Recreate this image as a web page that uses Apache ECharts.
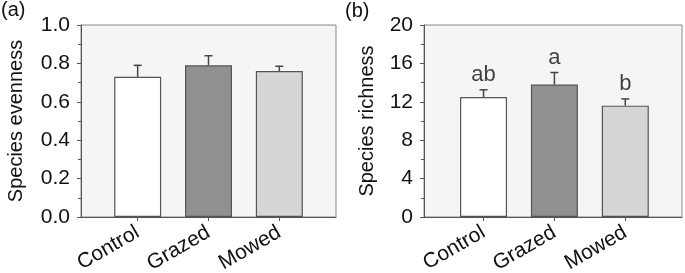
<!DOCTYPE html>
<html>
<head>
<meta charset="utf-8">
<style>
  html, body { margin: 0; padding: 0; background: #fff; }
  #chart { width: 685px; height: 273px; }
</style>
<script src="https://cdn.jsdelivr.net/npm/echarts@6/dist/echarts.min.js"></script>
</head>
<body>
<div id="chart"></div>
<script>
// treatments, positioned at 1, 2, 3 on each x axis
const categories = ['Control', 'Grazed', 'Mowed']
const barColors = ['#ffffff', '#909090', '#d6d6d6']

// (a) species evenness
const evenness = [0.73, 0.79, 0.76]
const evennessErr = [0.06, 0.05, 0.025]

// (b) species richness
const richness = [12.5, 13.8, 11.6]
const richnessErr = [0.75, 1.25, 0.7]
const richnessLetters = ['ab', 'a', 'b']

const evennessTicks = [0, 1, 0.2]   // min, max, interval
const richnessTicks = [0, 20, 4]

const font = 'Liberation Sans, Arial, sans-serif'
const textColor = '#111'

const chart = echarts.init(document.getElementById('chart'))

function xAxisFor(gridIndex, min, max) {
  return {
    gridIndex: gridIndex,
    type: 'value',
    min: min,
    max: max,
    axisLine: { show: true, lineStyle: { color: '#555', width: 1 } },
    axisTick: {
      show: true, customValues: [1, 2, 3], inside: false, length: 4,
      lineStyle: { color: '#555' }
    },
    axisLabel: {
      customValues: [1, 2, 3],
      rotate: 30,
      margin: 14,
      fontFamily: font,
      fontSize: 21,
      color: textColor,
      formatter: v => categories[Math.round(v) - 1] || ''
    },
    splitLine: { show: false }
  }
}

function yAxisFor(gridIndex, ticks, name, digits, gap) {
  return {
    gridIndex: gridIndex,
    type: 'value',
    min: ticks[0],
    max: ticks[1],
    interval: ticks[2],
    name: name,
    nameLocation: 'middle',
    nameRotate: 90,
    nameGap: gap,
    nameTextStyle: { fontFamily: font, fontSize: 20, color: textColor },
    axisLine: { show: true, lineStyle: { color: '#555', width: 1 } },
    axisTick: { show: true, inside: false, length: 4, lineStyle: { color: '#555' } },
    minorTick: { show: true, splitNumber: 2, length: 3, lineStyle: { color: '#555' } },
    axisLabel: {
      margin: 11,
      fontFamily: font,
      fontSize: 21,
      color: textColor,
      formatter: v => digits ? v.toFixed(digits) : String(v)
    },
    splitLine: { show: false }
  }
}

function barSeries(idx, values) {
  return {
    type: 'bar',
    xAxisIndex: idx,
    yAxisIndex: idx,
    barWidth: 47,
    data: values.map((v, i) => ({
      value: [i + 1, v],
      itemStyle: { color: barColors[i] }
    })),
    itemStyle: { borderColor: '#555', borderWidth: 1.2 },
    animation: false,
    z: 2
  }
}

function errorSeries(idx, values, errs) {
  return {
    type: 'custom',
    xAxisIndex: idx,
    yAxisIndex: idx,
    data: values.map((v, i) => [i + 1, v, v + errs[i]]),
    renderItem: function (params, api) {
      const base = api.coord([api.value(0), api.value(1)])
      const top = api.coord([api.value(0), api.value(2)])
      const style = { stroke: '#444', lineWidth: 1.5 }
      return {
        type: 'group',
        children: [
          { type: 'line', shape: { x1: base[0], y1: base[1], x2: top[0], y2: top[1] }, style: style },
          { type: 'line', shape: { x1: top[0] - 4, y1: top[1], x2: top[0] + 4, y2: top[1] }, style: style }
        ]
      }
    },
    animation: false,
    z: 3
  }
}

const option = {
  backgroundColor: '#fff',
  animation: false,
  grid: [
    { left: 81, right: 349, top: 25, bottom: 56, outerBoundsMode: 'none', show: true, backgroundColor: '#f5f5f5', borderColor: '#888', borderWidth: 1 },
    { left: 424, right: 3, top: 25, bottom: 56, outerBoundsMode: 'none', show: true, backgroundColor: '#f5f5f5', borderColor: '#888', borderWidth: 1 }
  ],
  xAxis: [xAxisFor(0, 0.2, 3.8), xAxisFor(1, 0.16, 3.8)],
  yAxis: [
    yAxisFor(0, evennessTicks, 'Species evenness', 1, 55),
    yAxisFor(1, richnessTicks, 'Species richness', 0, 47)
  ],
  graphic: [
    { type: 'text', left: 1, top: 0, style: { text: '(a)', font: '20px ' + font, fill: textColor } },
    { type: 'text', left: 345, top: 1, style: { text: '(b)', font: '20px ' + font, fill: textColor } }
  ],
  series: [
    barSeries(0, evenness),
    errorSeries(0, evenness, evennessErr),
    barSeries(1, richness),
    errorSeries(1, richness, richnessErr),
    {
      type: 'scatter',
      xAxisIndex: 1,
      yAxisIndex: 1,
      symbolSize: 0,
      data: richness.map((v, i) => [i + 1, v + richnessErr[i], richnessLetters[i]]),
      label: {
        show: true,
        position: 'top',
        distance: 4,
        fontFamily: font,
        fontSize: 22,
        color: textColor,
        formatter: p => p.value[2]
      },
      animation: false,
      z: 4
    }
  ]
}

chart.setOption(option)
</script>
</body>
</html>
